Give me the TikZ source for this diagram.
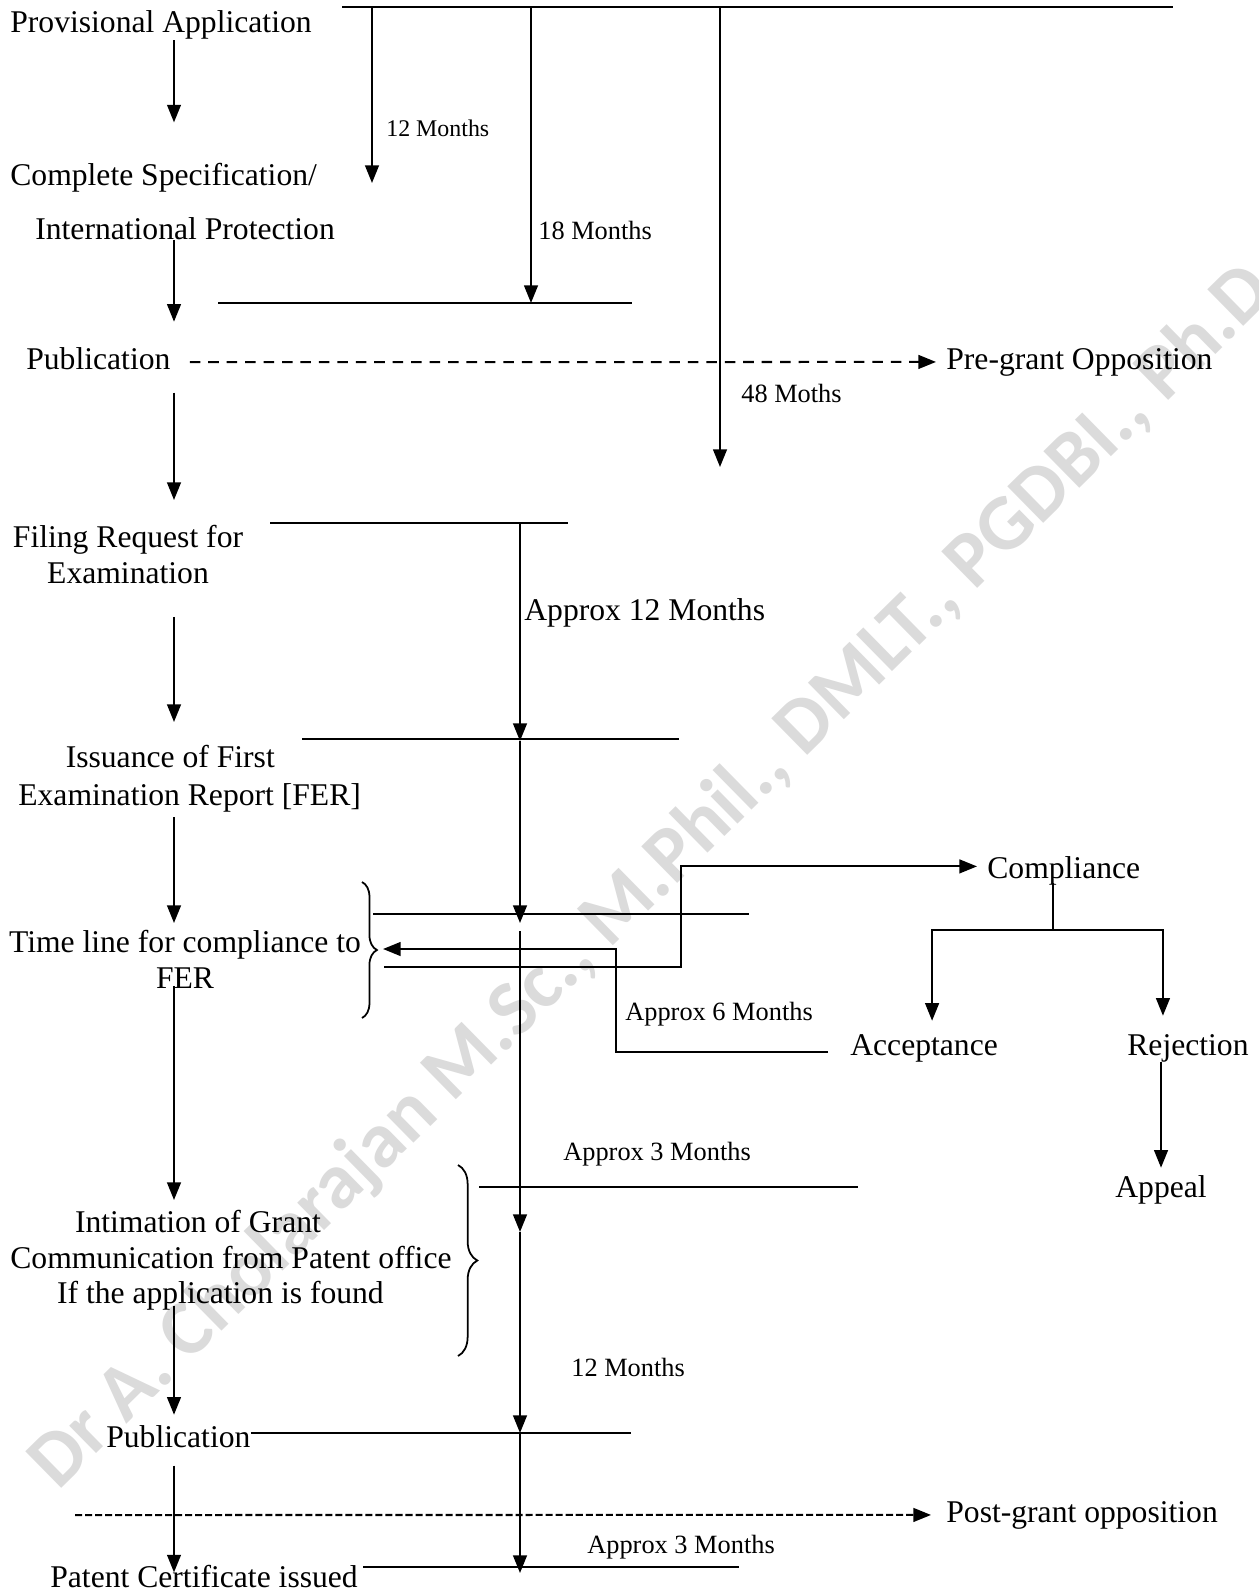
\documentclass[tikz,border=0pt]{standalone}
\usepackage{fontspec}
\setmainfont{Liberation Serif}
\newfontfamily\wmfont{Carlito}
\usetikzlibrary{arrows.meta,calc,decorations.pathreplacing}

\newcommand{\bigtxt}{\fontsize{18}{20.2}\selectfont}
\newcommand{\midtxt}{\fontsize{15}{18}\selectfont}
\newcommand{\smltxt}{\fontsize{13.6}{16}\selectfont}

\begin{document}
\begin{tikzpicture}[x=0.02cm, y=-0.02cm,
  txt/.style={inner sep=0pt, font=\bigtxt},
  note/.style={inner sep=0pt, anchor=base west, font=\midtxt},
  arr/.style={-{Triangle[length=10pt, width=7.8pt]}, line width=1.15pt},
  rule/.style={line width=1.15pt},
  dsh/.style={arr, dash pattern=#1},
  brc/.style={decorate, decoration={brace, amplitude=#1}, line width=1pt},
  wmark/.style={inner sep=0pt, font=\wmfont\bfseries\fontsize{45}{48}\selectfont, text=black!14}
]
  \useasboundingbox[fill=white] (0,0) rectangle (1258,1595);

  \node[wmark, rotate=44.5, anchor=base west] (wm) at (58,1492) {Dr A. Cholarajan M.Sc., M.Phil., DMLT., PGDBI., Ph.D};

  % steps down the left side
  \node[txt, anchor=base west] (pa) at (10,33) {Provisional Application};
  \node[txt, anchor=base west] (cs) at (10,185) {Complete Specification/};
  \node[txt, anchor=base west] (ip) at (35,239) {International Protection};
  \node[txt, anchor=base west] (pub) at (26,369) {Publication};
  \node[txt, anchor=north, align=center] (frq) at (128,525) {Filing Request for\\Examination};
  \node[txt, anchor=north west, align=left] (ifr) at (18,745) {\hspace*{27pt}Issuance of First\\[1.3pt]Examination Report [FER]};
  \node[txt, anchor=north, align=center] (tlc) at (185,930) {Time line for compliance to\\FER};
  \node[txt, anchor=north west, align=left] (igr) at (10,1210) {\hspace*{36.8pt}Intimation of Grant\\Communication from Patent office\\\hspace*{26.6pt}If the application is found};
  \node[txt, anchor=base west] (pub2) at (106,1447) {Publication};
  \node[txt, anchor=base west] (pci) at (50,1587) {Patent Certificate issued};

  \node[txt, anchor=base west] (pgo) at (946,369) {Pre-grant Opposition};
  \node[txt, anchor=base west] (pso) at (946,1522) {Post-grant opposition};
  \node[txt, anchor=base west] (cmp) at (987,878) {Compliance};
  \node[txt, anchor=base west] (acc) at (850,1055) {Acceptance};
  \node[txt, anchor=base west] (rej) at (1127,1055) {Rejection};
  \node[txt, anchor=base west] (app) at (1115,1197) {Appeal};
  \node[txt, anchor=base west] (a12) at (524,620) {Approx 12 Months};

  \node[note, font=\smltxt] (m12a) at (386,136) {12 Months};
  \node[note] (m18) at (538,239) {18 Months};
  \node[note] (m48) at (741,402) {48 Moths};
  \node[note] (a6) at (625,1020) {Approx 6 Months};
  \node[note] (a3a) at (563,1160) {Approx 3 Months};
  \node[note] (m12b) at (571,1376) {12 Months};
  \node[note] (a3b) at (587,1553) {Approx 3 Months};

  \coordinate (colx) at (174,0);
  \draw[arr] (pa.south -| colx) -- ($(cs.north -| colx)+(0,-40)$);
  \draw[arr] (ip.south -| colx) -- ($(pub.north -| colx)+(0,-25)$);
  \draw[arr] ($(pub.south -| colx)+(0,23)$) -- ($(frq.north -| colx)+(0,-25)$);
  \draw[arr] ($(frq.south -| colx)+(0,33)$) -- ($(ifr.north -| colx)+(0,-23)$);
  \draw[arr] ($(ifr.south -| colx)+(0,5)$) -- ($(tlc.north -| colx)+(0,-7)$);
  \draw[arr] ($(tlc.south -| colx)+(0,-2)$) -- ($(igr.north -| colx)+(0,-10)$);
  \draw[arr] ($(igr.south -| colx)+(0,-5)$) -- ($(pub2.north -| colx)+(0,-10)$);
  \draw[arr] ($(pub2.south -| colx)+(0,18)$) -- ($(pci.north -| colx)+(0,8)$);

  % time spans from filing
  \draw[rule] (342,7) -- (1173,7);
  \draw[arr] (372,7) -- (372,183);
  \draw[arr] (531,7) -- (531,303);
  \draw[rule] (218,303) -- (632,303);
  \draw[arr] (720,7) -- (720,467);
  \draw[dsh={on 6pt off 4.5pt}] ($(pub.east)+(19,4)$) -- ($(pgo.west)+(-10,0)$);

  % examination timeline
  \draw[rule] (270,523) -- (568,523);
  \draw[arr] (520,523) -- (520,741);
  \draw[arr] (520,741) -- (520,923);
  \draw[rule] (302,739) -- (679,739);
  \draw[rule] (373,914) -- (749,914);
  \draw[arr] (520,931) -- (520,1232);
  \draw[arr] (520,1232) -- (520,1433);
  \draw[arr] (520,1433) -- (520,1573);
  \draw[rule] (479,1187) -- (858,1187);
  \draw[rule] (pub2.east |- 520,1433) -- (631,1433);
  \draw[rule] (363,1567) -- (739,1567);

  \coordinate (pgs) at (75,1515);
  \draw[dsh={on 4pt off 1.7pt}] (pgs) -- ($(pso.west)+(-15,0)$);

  % compliance loop
  \draw[brc=8.5pt] (362,882) -- (362,1018);
  \draw[brc=11pt] (458,1165) -- (458,1356);
  \coordinate (b1tip) at (383,949);
  \coordinate (b1out) at (384,967);
  \draw[arr] (b1out) -- ++(297,0) |- ($(cmp.west)+(-10,-4)$);
  \draw[arr] ($(acc.base west)+(-22,-3)$) -- ++(-212,0) |- (b1tip);

  \draw[rule] ($(cmp.south)+(-11,-2)$) -- ++(0,47) coordinate (fork);
  \draw[arr] (fork) -| ($(acc.north)+(8,-13)$);
  \draw[arr] (fork) -| ($(rej.north)+(-25,-18)$);
  \draw[arr] (rej.south -| app.north) -- ($(app.north)+(0,-7)$);
\end{tikzpicture}
\end{document}
